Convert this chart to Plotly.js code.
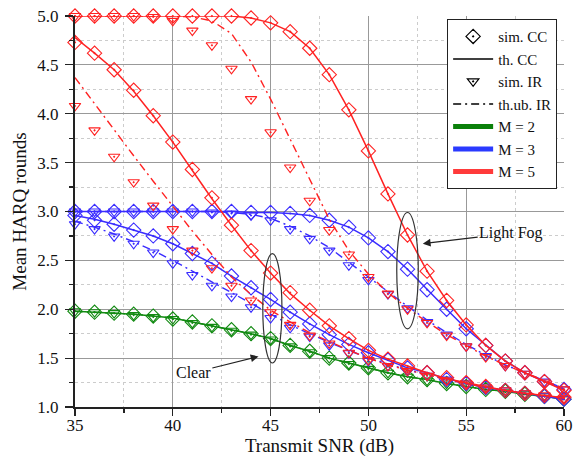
<!DOCTYPE html>
<html>
<head>
<meta charset="utf-8">
<script src="https://cdn.plot.ly/plotly-3.0.1.min.js"></script>
<style>html,body{margin:0;padding:0;background:#fff;}#chart{width:580px;height:463px;}</style>
</head>
<body>
<div id="chart"></div>
<script>
const snr = [35,36,37,38,39,40,41,42,43,44,45,46,47,48,49,50,51,52,53,54,55,56,57,58,59,60];

// Clear weather
const m2CC_th  = [1.98,1.97,1.96,1.95,1.93,1.91,1.87,1.83,1.79,1.75,1.70,1.63,1.57,1.50,1.45,1.40,1.35,1.31,1.28,1.24,1.21,1.18,1.16,1.13,1.11,1.08];
const m2CC_sim = [1.98,1.97,1.96,1.95,1.93,1.90,1.87,1.83,1.79,1.75,1.70,1.63,1.57,1.50,1.45,1.40,1.35,1.31,1.28,1.24,1.21,1.18,1.16,1.13,1.11,1.08];
const m2IR_th  = [1.98,1.97,1.96,1.95,1.93,1.91,1.87,1.83,1.79,1.75,1.70,1.63,1.57,1.50,1.45,1.40,1.35,1.31,1.28,1.24,1.21,1.18,1.16,1.13,1.11,1.08];
const m2IR_sim = [1.98,1.97,1.96,1.94,1.92,1.90,1.86,1.82,1.78,1.74,1.69,1.62,1.56,1.50,1.44,1.39,1.35,1.31,1.27,1.24,1.21,1.18,1.15,1.13,1.11,1.08];

const m3CC_th  = [2.96,2.92,2.87,2.81,2.75,2.67,2.57,2.47,2.34,2.22,2.10,1.97,1.85,1.74,1.64,1.555,1.48,1.40,1.35,1.29,1.24,1.20,1.17,1.14,1.11,1.08];
const m3CC_sim = [2.96,2.91,2.87,2.81,2.75,2.67,2.57,2.47,2.34,2.22,2.10,1.97,1.85,1.74,1.64,1.555,1.48,1.40,1.35,1.28,1.24,1.20,1.17,1.14,1.11,1.08];
const m3IR_th  = [2.90,2.84,2.77,2.69,2.60,2.50,2.39,2.28,2.17,2.06,1.95,1.84,1.75,1.66,1.58,1.50,1.44,1.38,1.33,1.28,1.24,1.20,1.17,1.14,1.11,1.08];
const m3IR_sim = [2.87,2.82,2.745,2.67,2.58,2.47,2.35,2.24,2.13,2.02,1.91,1.81,1.72,1.63,1.55,1.47,1.42,1.37,1.32,1.28,1.24,1.20,1.17,1.14,1.11,1.08];

const m5CC_th  = [4.78,4.62,4.45,4.23,3.98,3.71,3.42,3.13,2.86,2.60,2.37,2.16,1.99,1.83,1.70,1.58,1.49,1.42,1.35,1.29,1.25,1.21,1.17,1.14,1.12,1.095];
const m5CC_sim = [4.73,4.62,4.45,4.24,3.98,3.71,3.43,3.14,2.86,2.60,2.37,2.17,1.99,1.83,1.70,1.58,1.49,1.42,1.35,1.30,1.25,1.21,1.17,1.14,1.12,1.10];
const m5IR_th  = [4.37,4.10,3.84,3.57,3.31,3.05,2.80,2.56,2.33,2.15,1.99,1.87,1.76,1.67,1.58,1.50,1.43,1.38,1.33,1.28,1.24,1.20,1.17,1.14,1.12,1.09];
const m5IR_sim = [4.08,3.83,3.56,3.30,3.06,2.82,2.60,2.42,2.24,2.09,1.97,1.84,1.73,1.65,1.555,1.48,1.42,1.37,1.32,1.27,1.24,1.20,1.17,1.14,1.12,1.09];

// Light fog
const f3CC_th  = [3,3,3,3,3,3,3,3,3,2.99,2.99,2.98,2.96,2.91,2.84,2.73,2.59,2.41,2.20,2.00,1.80,1.63,1.47,1.35,1.26,1.18];
const f3CC_sim = [3,3,3,3,3,3,3,3,3,2.99,2.99,2.98,2.96,2.91,2.84,2.73,2.59,2.41,2.20,2.00,1.80,1.63,1.47,1.35,1.26,1.18];
const f3IR_th  = [3,3,3,3,3,3,3,3,2.99,2.97,2.93,2.85,2.75,2.63,2.48,2.33,2.18,2.03,1.89,1.76,1.64,1.53,1.43,1.35,1.27,1.19];
const f3IR_sim = [3,3,3,3,3,3,3,2.99,2.98,2.96,2.91,2.82,2.72,2.60,2.45,2.30,2.155,2.01,1.87,1.74,1.62,1.52,1.42,1.34,1.26,1.18];

const f5CC_th  = [5,5,5,5,5,5,5,5,5,4.98,4.93,4.84,4.67,4.40,4.04,3.62,3.18,2.76,2.39,2.09,1.84,1.63,1.47,1.35,1.26,1.17];
const f5CC_sim = [5,5,5,5,5,5,5,5,5,4.98,4.93,4.84,4.67,4.40,4.04,3.62,3.18,2.76,2.39,2.09,1.84,1.63,1.47,1.35,1.26,1.17];
const f5IR_th  = [5,5,5,5,5,5,4.99,4.95,4.82,4.53,4.15,3.74,3.32,2.92,2.60,2.36,2.17,2.01,1.87,1.74,1.63,1.52,1.43,1.35,1.27,1.19];
const f5IR_sim = [5,5,5,5,4.99,4.95,4.85,4.70,4.46,4.15,3.81,3.45,3.11,2.81,2.56,2.33,2.16,2.00,1.86,1.73,1.62,1.51,1.42,1.34,1.25,1.18];

const legendNames = ["sim. CC","th. CC","sim. IR","th.ub. IR","M = 2","M = 3","M = 5"];

const GREEN = "#118a11", BLUE = "#3a2cff", RED = "#ff2222";
const DASHDOT = "8px,4px,2px,4px";
const FONT = "Liberation Serif, Times New Roman, serif";

const traces = [];
function addSet(color, cc_th, cc_sim, ir_th, ir_sim) {
  traces.push({x: snr, y: ir_th, mode: "lines", line: {color: color, width: 1.4, dash: DASHDOT}, showlegend: false, cliponaxis: false});
  traces.push({x: snr, y: cc_th, mode: "lines", line: {color: color, width: 1.5}, showlegend: false, cliponaxis: false});
  traces.push({x: snr, y: ir_sim, mode: "markers", marker: {symbol: "triangle-down-open-dot", size: 10, color: color, line: {width: 1.1}}, showlegend: false, cliponaxis: false});
  traces.push({x: snr, y: cc_sim, mode: "markers", marker: {symbol: "diamond-open-dot", size: 11, color: color, line: {width: 1.1}}, showlegend: false, cliponaxis: false});
}
addSet(GREEN, m2CC_th, m2CC_sim, m2IR_th, m2IR_sim);
addSet(BLUE, m3CC_th, m3CC_sim, m3IR_th, m3IR_sim);
addSet(BLUE, f3CC_th, f3CC_sim, f3IR_th, f3IR_sim);
addSet(RED, m5CC_th, m5CC_sim, m5IR_th, m5IR_sim);
addSet(RED, f5CC_th, f5CC_sim, f5IR_th, f5IR_sim);

// legend-only traces
traces.push({x: [null], y: [null], mode: "markers", name: legendNames[0], marker: {symbol: "diamond-open-dot", size: 11, color: "black", line: {width: 1.2}}});
traces.push({x: [null], y: [null], mode: "lines", name: legendNames[1], line: {color: "black", width: 1.5}});
traces.push({x: [null], y: [null], mode: "markers", name: legendNames[2], marker: {symbol: "triangle-down-open-dot", size: 10, color: "black", line: {width: 1.2}}});
traces.push({x: [null], y: [null], mode: "lines", name: legendNames[3], line: {color: "black", width: 1.5, dash: DASHDOT}});
traces.push({x: [null], y: [null], mode: "lines", name: legendNames[4], line: {color: "#0a800a", width: 5}});
traces.push({x: [null], y: [null], mode: "lines", name: legendNames[5], line: {color: "#2a3aff", width: 5}});
traces.push({x: [null], y: [null], mode: "lines", name: legendNames[6], line: {color: "#ff3a3a", width: 5}});

const layout = {
  width: 580, height: 463,
  margin: {l: 75, r: 16, t: 16, b: 56},
  paper_bgcolor: "#fff", plot_bgcolor: "#fff",
  font: {family: FONT, size: 16, color: "#111"},
  showlegend: true,
  legend: {x: 0.761, y: 0.992, xanchor: "left", yanchor: "top", bgcolor: "#fff",
           bordercolor: "#222", borderwidth: 1, font: {family: FONT, size: 15, color: "#111"},
           itemwidth: 40, tracegroupgap: 0},
  xaxis: {range: [35, 60], dtick: 5, tick0: 35, showline: true, linecolor: "#222", linewidth: 2,
          ticks: "outside", ticklen: 7, tickwidth: 1.2, tickcolor: "#222", ticklabelstandoff: -5,
          showgrid: true, gridcolor: "#999", gridwidth: 1, zeroline: false,
          minor: {dtick: 2.5, tick0: 35, showgrid: true, gridcolor: "#cccccc", griddash: "dot", ticks: "outside", ticklen: 4, tickcolor: "#222"},
          tickfont: {family: FONT, size: 17, color: "#111"},
          title: {text: "Transmit SNR (dB)", font: {family: FONT, size: 19, color: "#111"}, standoff: 0}},
  yaxis: {range: [1, 5], dtick: 0.5, tick0: 1, tickformat: ".1f", showline: true, linecolor: "#222", linewidth: 2,
          ticks: "outside", ticklen: 8, tickwidth: 1.2, tickcolor: "#222", ticklabelstandoff: 3,
          showgrid: true, gridcolor: "#999", gridwidth: 1, zeroline: false,
          minor: {dtick: 0.25, tick0: 1, showgrid: true, gridcolor: "#cccccc", griddash: "dot", ticks: "outside", ticklen: 4, tickcolor: "#222"},
          tickfont: {family: FONT, size: 17, color: "#111"},
          title: {text: "Mean HARQ rounds", font: {family: FONT, size: 19, color: "#111"}, standoff: 6}},
  shapes: [
    {type: "circle", xref: "x", yref: "y", x0: 44.6, x1: 45.58, y0: 1.45, y1: 2.57, line: {color: "#333", width: 1.2}},
    {type: "circle", xref: "x", yref: "y", x0: 51.45, x1: 52.55, y0: 1.80, y1: 2.99, line: {color: "#333", width: 1.2}}
  ],
  annotations: [
    {x: 44.43, y: 1.52, xref: "x", yref: "y", ax: 41.05, ay: 1.35, axref: "x", ayref: "y",
     text: "Clear", showarrow: true, arrowhead: 2, arrowsize: 1.3, arrowwidth: 1.2, arrowcolor: "#222",
     font: {family: FONT, size: 16, color: "#111"}, standoff: 1},
    {x: 52.73, y: 2.67, xref: "x", yref: "y", ax: 57.3, ay: 2.78, axref: "x", ayref: "y",
     text: "Light Fog", showarrow: true, arrowhead: 2, arrowsize: 1.3, arrowwidth: 1.2, arrowcolor: "#222",
     font: {family: FONT, size: 16, color: "#111"}, standoff: 1}
  ]
};

Plotly.newPlot("chart", traces, layout, {displayModeBar: false, staticPlot: true});
</script>
</body>
</html>
